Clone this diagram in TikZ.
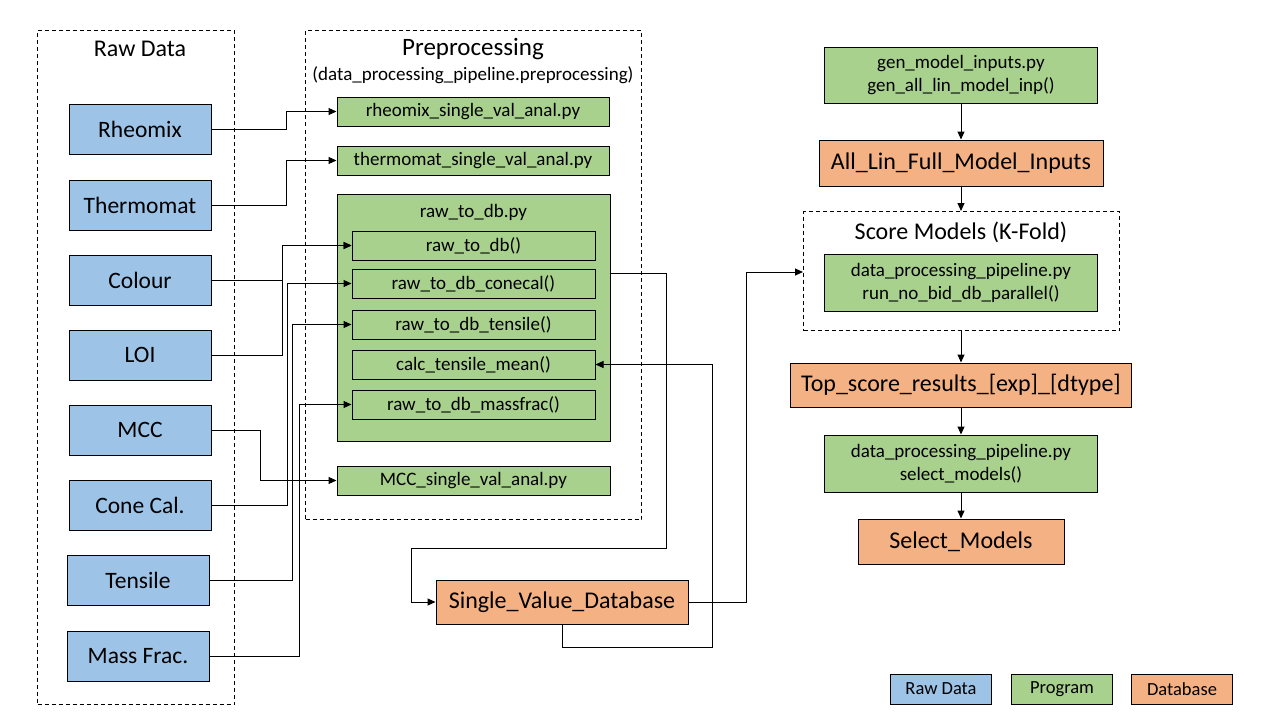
\documentclass[tikz,border=0pt]{standalone}
\usepackage{fontspec}
\setmainfont{Carlito}
\usetikzlibrary{arrows.meta,calc}

\definecolor{rawblue}{RGB}{157,195,230}
\definecolor{proggreen}{RGB}{169,209,142}
\definecolor{dborange}{RGB}{244,177,131}

\tikzset{
  box/.style={draw=black, line width=1pt, inner sep=0pt, anchor=center, align=center},
  rawbox/.style={box, fill=rawblue, minimum width=142pt, minimum height=50pt, font=\fontsize{23.5}{27}\selectfont},
  progbox/.style={box, fill=proggreen, font=\fontsize{19}{23}\selectfont},
  dbbox/.style={box, fill=dborange, font=\fontsize{24}{28}\selectfont},
  group/.style={draw=black, line width=1pt, dash pattern=on 4pt off 3pt, inner sep=0pt, anchor=north west},
  grouptitle/.style={font=\fontsize{24}{28}\selectfont},
  arr/.style={draw=black, line width=1pt, -{Triangle[length=8pt,width=7pt]}},
  legend/.style={box, minimum width=101pt, minimum height=30pt, font=\fontsize{18.5}{22}\selectfont}
}

\begin{document}
\begin{tikzpicture}[x=1pt,y=-1pt]
\useasboundingbox (0,0) rectangle (1280,720);

% groups
\node[group, minimum width=197pt, minimum height=674pt] (rawgrp) at (37,30) {};
\node[grouptitle] (rawtitle) at (140,49) {Raw Data};
\node[group, minimum width=336pt, minimum height=489pt] (pregrp) at (305,30) {};
\node[grouptitle, font=\fontsize{25}{29}\selectfont] (pretitle) at (473,49) {Preprocessing};
\node[font=\fontsize{19}{23}\selectfont] (presub) at (473,75) {(data\_processing\_pipeline.preprocessing)};

% raw data sources
\node[rawbox] (rheo)   at (140,129) {Rheomix};
\node[rawbox] (thermo) at (140,205) {Thermomat};
\node[rawbox] (colour) at (140,280) {Colour};
\node[rawbox] (loi)    at (140,355) {LOI};
\node[rawbox] (mcc)    at (140,430) {MCC};
\node[rawbox] (cone)   at (140,505) {Cone Cal.};
\node[rawbox] (tensile) at (138,580) {Tensile};
\node[rawbox] (mass)   at (138,656) {Mass Frac.};

% preprocessing programs
\node[progbox, minimum width=272pt, minimum height=29pt] (rheopy) at (473,111.5) {rheomix\_single\_val\_anal.py};
\node[progbox, minimum width=272pt, minimum height=29pt] (thermopy) at (473,160.5) {thermomat\_single\_val\_anal.py};
\node[progbox, minimum width=273pt, minimum height=247pt] (rawdb) at (473.5,317.5) {};
\node[font=\fontsize{19}{23}\selectfont] (rawdbtitle) at (473.5,212) {raw\_to\_db.py};
\node[progbox, minimum width=243pt, minimum height=29pt] (fraw)     at (473.5,245.5) {raw\_to\_db()};
\node[progbox, minimum width=243pt, minimum height=29pt] (fconecal) at (473.5,283.5) {raw\_to\_db\_conecal()};
\node[progbox, minimum width=243pt, minimum height=29pt] (ftensile) at (473.5,324.5) {raw\_to\_db\_tensile()};
\node[progbox, minimum width=243pt, minimum height=29pt] (fcalc)    at (473.5,364.5) {calc\_tensile\_mean()};
\node[progbox, minimum width=243pt, minimum height=29pt] (fmass)    at (473.5,404.5) {raw\_to\_db\_massfrac()};
\node[progbox, minimum width=273pt, minimum height=29pt] (mccpy) at (473.5,480.5) {MCC\_single\_val\_anal.py};

% database
\node[dbbox, minimum width=252pt, minimum height=44pt] (svd) at (562,602) {Single\_Value\_Database};

% model pipeline
\node[progbox, minimum width=273pt, minimum height=56pt] (gen) at (961,75) {gen\_model\_inputs.py\\gen\_all\_lin\_model\_inp()};
\node[dbbox, minimum width=284pt, minimum height=46pt] (alllin) at (961,163) {All\_Lin\_Full\_Model\_Inputs};
\node[group, minimum width=316pt, minimum height=119pt] (score) at (803,211) {};
\node[grouptitle] (scoretitle) at (961,232) {Score Models (K-Fold)};
\node[progbox, minimum width=273pt, minimum height=57pt] (runpar) at (961,282.5) {data\_processing\_pipeline.py\\run\_no\_bid\_db\_parallel()};
\node[dbbox, minimum width=341pt, minimum height=44pt] (top) at (961,385) {Top\_score\_results\_[exp]\_[dtype]};
\node[progbox, minimum width=273pt, minimum height=57pt] (selpy) at (961,463.5) {data\_processing\_pipeline.py\\select\_models()};
\node[dbbox, minimum width=206pt, minimum height=45pt] (selm) at (961,541.5) {Select\_Models};

% legend
\node[legend, fill=rawblue]    (lraw)  at (941,689) {Raw Data};
\node[legend, fill=proggreen]  (lprog) at (1062,689) {Program};
\node[legend, fill=dborange]   (ldb)   at (1182,689) {Database};

% raw data to preprocessing
\draw[arr] (rheo.east) -- ++(75,0) |- (rheopy.west);
\draw[arr] (thermo.east) -- ++(75,0) |- (thermopy.west);
\draw[arr] (colour.east) -- ++(71,0) |- (fraw.west);
\draw[arr] (loi.east) -- ++(71,0) |- (fraw.west);
\draw[arr] (cone.east) -- ++(76,0) |- (fconecal.west);
\draw[arr] (tensile.east) -- ++(83,0) |- (ftensile.west);
\draw[arr] (mass.east) -- ++(90,0) |- (fmass.west);
\draw[arr] (mcc.east) -- ++(49,0) |- (mccpy.west);

% into and out of the database
\draw[arr] ($(rawdb.north east)+(0,80)$) -- ++(56,0) -- ++(0,275) -| ([xshift=-24pt]svd.west) -- (svd.west);
\draw[arr] (svd.east) -- ++(58,0) |- ($(score.north west)+(0,61)$);
\draw[arr] (svd.south) -- ++(0,23) -- ++(150,0) |- (fcalc.east);

% model pipeline flow
\draw[arr] (gen.south) -- (alllin.north);
\draw[arr] (alllin.south) -- (score.north -| alllin.south);
\draw[arr] (score.south -| top.north) -- (top.north);
\draw[arr] (top.south) -- (selpy.north);
\draw[arr] (selpy.south) -- (selm.north);
\end{tikzpicture}
\end{document}
